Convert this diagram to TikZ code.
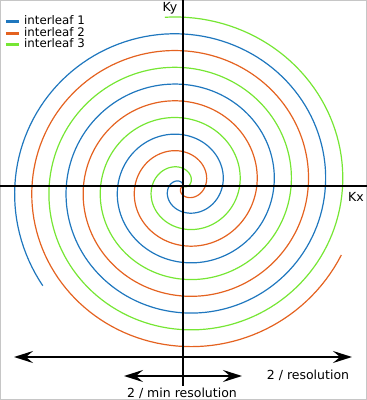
\documentclass[tikz,border=0pt]{standalone}
\usepackage{fontspec}
\setmainfont{DejaVu Sans}
\usepackage{xcolor}
\usepackage{tikz}
\usetikzlibrary{arrows.meta}
\definecolor{leafblue}{RGB}{31,119,190}
\definecolor{leaforange}{RGB}{228,98,32}
\definecolor{leafgreen}{RGB}{118,230,52}

\begin{document}
\begin{tikzpicture}[x=1pt,y=1pt,
  leaf/.style={line width=1.2pt},
  axis/.style={line width=2pt},
  span/.style={line width=2pt,{Stealth[length=19pt,width=12pt,inset=7pt]}-{Stealth[length=19pt,width=12pt,inset=7pt]}},
  lbl/.style={font=\fontsize{12.5}{14}\selectfont,inner sep=0pt}]
\useasboundingbox (-183,-214) rectangle (184,186);
\draw[gray!45,line width=1pt] (-182.5,-213.5) rectangle (183.5,185.5);
% interleaves
\draw[leaf,leafblue] plot[domain=0:1212,samples=500] ({0.143*\x*cos(\x+84)},{0.14*\x*sin(\x+84)});
\draw[leaf,leaforange] plot[domain=0:1212,samples=500] ({0.143*\x*cos(\x+204)},{0.14*\x*sin(\x+204)});
\draw[leaf,leafgreen] plot[domain=0:1212,samples=500] ({0.143*\x*cos(\x+324)},{0.14*\x*sin(\x+324)});
% axes
\coordinate (kxl) at (-183,0);
\coordinate (kxr) at (184,0);
\coordinate (kyt) at (0,186);
\coordinate (kyb) at (0,-200);
\draw[axis] (kxl) -- (kxr);
\draw[axis] (kyt) -- (kyb);
\node[lbl] (kx) at (173,-11) {Kx};
\node[lbl] (ky) at (-13,178) {Ky};
% resolution spans
\coordinate (resl) at (-169,-171);
\coordinate (resr) at (169,-171);
\coordinate (minl) at (-59,-190);
\coordinate (minr) at (59,-190);
\draw[span] (resl) -- (resr);
\draw[span] (minl) -- (minr);
\node[lbl,anchor=base] (res) at (125,-193.3) {2 / resolution};
\node[lbl,anchor=base] (minres) at (-1,-211.5) {2 / min resolution};
% legend
\draw[leafblue,line width=3pt] (-177,164.5) -- (-164,164.5);
\draw[leaforange,line width=3pt] (-177,153) -- (-164,153);
\draw[leafgreen,line width=3pt] (-177,141.5) -- (-164,141.5);
\node[anchor=base west,inner sep=0pt,font=\fontsize{11.8}{14}\selectfont] (leg1) at (-159,161.5) {interleaf 1};
\node[anchor=base west,inner sep=0pt,font=\fontsize{11.8}{14}\selectfont] (leg2) at (-159,150) {interleaf 2};
\node[anchor=base west,inner sep=0pt,font=\fontsize{11.8}{14}\selectfont] (leg3) at (-159,138.5) {interleaf 3};
\end{tikzpicture}
\end{document}
